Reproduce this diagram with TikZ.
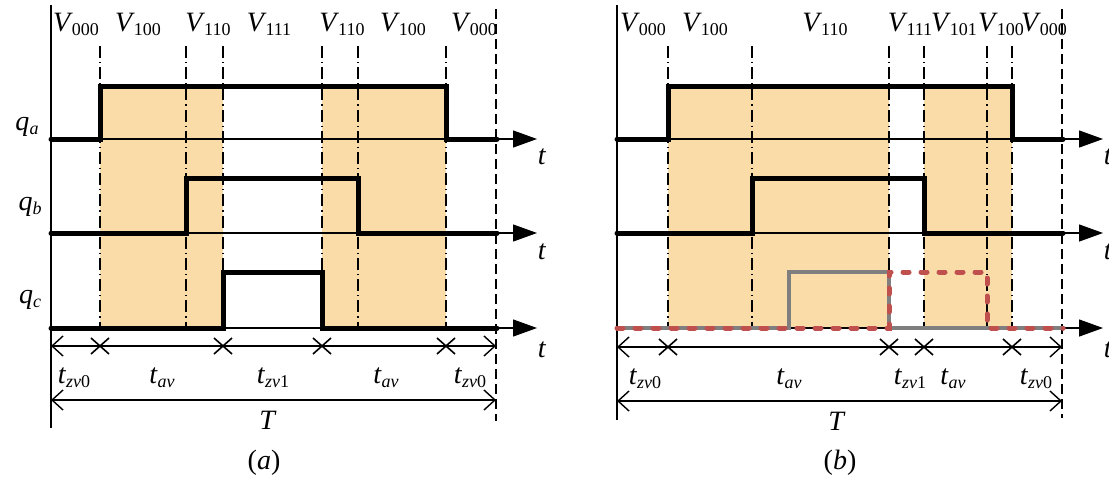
\documentclass[tikz,border=0pt]{standalone}
\usepackage{fontspec}
\setmainfont{Liberation Serif}
\usetikzlibrary{arrows.meta}
\definecolor{shadeor}{RGB}{249,220,168}
\definecolor{redd}{RGB}{192,80,77}
\definecolor{grayl}{RGB}{127,127,127}
\newcommand\sbx[1]{\raisebox{-0.32ex}{\fontsize{18}{18}\selectfont #1}}
\newcommand\vl[1]{\textit{V}\kern-1pt\sbx{#1}}
\newcommand\tl[1]{\textit{t}\sbx{#1}}
\tikzset{
 sig/.style={line width=5pt, line join=miter, line cap=round},
 axisarr/.style={line width=1.3pt, -{Triangle[length=24pt,width=17pt]}},
 ddot/.style={line width=1.2pt, dash pattern=on 12pt off 4pt on 1.2pt off 4pt},
 dashv/.style={line width=1.4pt, dash pattern=on 10pt off 5pt},
 frame/.style={line width=1.3pt},
 dim/.style={line width=1.4pt, {Straight Barb[length=11pt,width=20pt]}-{Straight Barb[length=11pt,width=20pt]}},
 lbl/.style={font=\fontsize{28}{30}\selectfont, inner sep=0pt},
 xm/.pic={\draw[line width=1.6pt] (-9,-8)--(9,8) (-9,8)--(9,-8);},
}
\begin{document}
\begin{tikzpicture}[x=1pt,y=-1pt]
\useasboundingbox (0,0) rectangle (1109,479);
% ================= panel (a) =================
\fill[shadeor] (100,86) rectangle (223,328);
\fill[shadeor] (322,86) rectangle (446,328);
\foreach \x in {100,186,223,322,358,446} \draw[ddot] (\x,46) -- (\x,328);
\draw[frame] (51,5) -- (51,428);
\draw[dashv] (496,9) -- (496,421);
\coordinate (aA0) at (51,139); \coordinate (aA1) at (537,139);
\coordinate (aB0) at (51,233); \coordinate (aB1) at (537,233);
\coordinate (aC0) at (51,328); \coordinate (aC1) at (537,328);
\draw[axisarr] (aA0) -- (aA1);
\draw[axisarr] (aB0) -- (aB1);
\draw[axisarr] (aC0) -- (aC1);
\draw[sig] (51,139) -- (100,139) -- (100,86) -- (446,86) -- (446,139) -- (497,139);
\draw[sig] (51,233) -- (186,233) -- (186,178) -- (358,178) -- (358,233) -- (497,233);
\draw[sig] (51,328) -- (223,328) -- (223,272) -- (322,272) -- (322,328) -- (497,328);
\node[lbl] (aqa) at (27,127) {\textit{q}\sbx{\textit{a}}};
\node[lbl] (aqb) at (30,207) {\textit{q}\sbx{\textit{b}}};
\node[lbl] (aqc) at (30,300) {\textit{q}\sbx{\textit{c}}};
\node[lbl] (ata) at (542,157) {\textit{t}};
\node[lbl] (atb) at (542,252) {\textit{t}};
\node[lbl] (atc) at (542,350) {\textit{t}};
\node[lbl] (av1) at (76,24) {\vl{000}};
\node[lbl] (av2) at (138,24) {\vl{100}};
\node[lbl] (av3) at (208,24) {\vl{110}};
\node[lbl] (av4) at (269,24) {\vl{111}};
\node[lbl] (av5) at (342,24) {\vl{110}};
\node[lbl] (av6) at (403,24) {\vl{100}};
\node[lbl] (av7) at (474,24) {\vl{000}};
\coordinate (ad0) at (51,346); \coordinate (ad1) at (496,346);
\draw[dim] (ad0) -- (ad1);
\foreach \x in {100,223,322,446} \pic at (\x,346) {xm};
\coordinate (aT0) at (51,400); \coordinate (aT1) at (496,400);
\draw[dim] (aT0) -- (aT1);
\node[lbl] (ad1l) at (74,378) {\tl{\textit{zv}0}};
\node[lbl] (ad2l) at (162,378) {\tl{\textit{av}}};
\node[lbl] (ad3l) at (273,378) {\tl{\textit{zv}1}};
\node[lbl] (ad4l) at (386,378) {\tl{\textit{av}}};
\node[lbl] (ad5l) at (470,378) {\tl{\textit{zv}0}};
\node[lbl] (aTl) at (268,420) {\textit{T}};
\node[lbl] (acap) at (264,463) {(\textit{a})};
% ================= panel (b) =================
\fill[shadeor] (668,86) rectangle (889,328);
\fill[shadeor] (924,86) rectangle (1012,328);
\foreach \x in {668,752,889,924,987,1012} \draw[ddot] (\x,46) -- (\x,328);
\draw[frame] (617,5) -- (617,420);
\draw[dashv] (1062,9) -- (1062,418);
\coordinate (bA0) at (617,139); \coordinate (bA1) at (1103,139);
\coordinate (bB0) at (617,233); \coordinate (bB1) at (1103,233);
\coordinate (bC0) at (617,328); \coordinate (bC1) at (1103,328);
\draw[axisarr] (bA0) -- (bA1);
\draw[axisarr] (bB0) -- (bB1);
\draw[axisarr] (bC0) -- (bC1);
\draw[sig] (617,139) -- (668,139) -- (668,86) -- (1012,86) -- (1012,139) -- (1063,139);
\draw[sig] (617,233) -- (752,233) -- (752,178) -- (924,178) -- (924,233) -- (1063,233);
\draw[sig, line width=4.5pt, grayl] (617,328) -- (789,328) -- (789,272) -- (889,272) -- (889,328) -- (1063,328);
\draw[line width=5pt, redd, line cap=round, dash pattern=on 6pt off 12pt] (617,328) -- (889,328) -- (889,272) -- (987,272) -- (987,328) -- (1063,328);
\node[lbl] (bta) at (1108,157) {\textit{t}};
\node[lbl] (btb) at (1108,252) {\textit{t}};
\node[lbl] (btc) at (1108,350) {\textit{t}};
\node[lbl] (bv1) at (643,24) {\vl{000}};
\node[lbl] (bv2) at (705,24) {\vl{100}};
\node[lbl] (bv3) at (825,24) {\vl{110}};
\node[lbl] (bv4) at (910,24) {\vl{111}};
\node[lbl] (bv5) at (954,24) {\vl{101}};
\node[lbl] (bv6) at (1001,24) {\vl{100}};
\node[lbl] (bv7) at (1044,24) {\vl{000}};
\coordinate (bd0) at (617,347); \coordinate (bd1) at (1062,347);
\draw[dim] (bd0) -- (bd1);
\foreach \x in {668,889,924,1012} \pic at (\x,347) {xm};
\coordinate (bT0) at (617,401); \coordinate (bT1) at (1062,401);
\draw[dim] (bT0) -- (bT1);
\node[lbl] (bd1l) at (645,379) {\tl{\textit{zv}0}};
\node[lbl] (bd2l) at (789,379) {\tl{\textit{av}}};
\node[lbl] (bd3l) at (910,379) {\tl{\textit{zv}1}};
\node[lbl] (bd4l) at (953,379) {\tl{\textit{av}}};
\node[lbl] (bd5l) at (1036,379) {\tl{\textit{zv}0}};
\node[lbl] (bTl) at (837,421) {\textit{T}};
\node[lbl] (bcap) at (840,463) {(\textit{b})};
\end{tikzpicture}
\end{document}
